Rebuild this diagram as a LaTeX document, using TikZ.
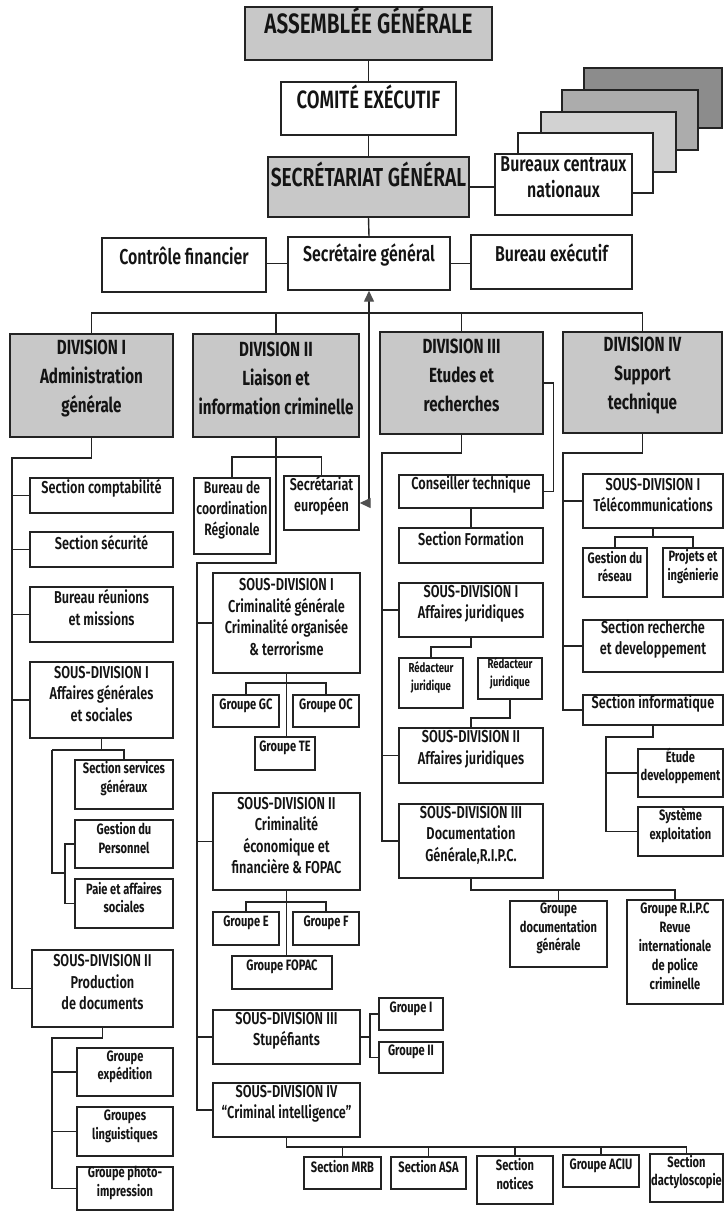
\documentclass[tikz,border=0pt]{standalone}
\usepackage{fontspec}
\setmainfont{Fira Sans}[FakeStretch=0.74, UprightFont=* SemiBold, BoldFont=* Bold]
\usetikzlibrary{fit,arrows.meta}
\definecolor{lc}{RGB}{35,35,35}
\definecolor{tc}{RGB}{20,20,20}
\definecolor{gfill}{RGB}{200,200,200}
\definecolor{stA}{RGB}{140,140,140}
\definecolor{stB}{RGB}{172,172,172}
\definecolor{stC}{RGB}{210,210,210}
\definecolor{arr}{RGB}{80,80,80}
\tikzset{
 bx/.style={draw=lc, line width=1.4pt, fill=white, inner sep=0pt, align=center, text=tc},
 gbx/.style={bx, fill=gfill},
 ln/.style={draw=lc, line width=1.4pt},
 fbig/.style={font=\fontsize{27}{30}\selectfont},
 fmid/.style={font=\fontsize{21.5}{26}\selectfont},
 fdiv/.style={font=\bfseries\fontsize{20.5}{29}\selectfont},
 fsec/.style={font=\fontsize{17.2}{21.5}\selectfont},
 fsm/.style={font=\bfseries\fontsize{15}{18.5}\selectfont},
 dblarrow/.style={ln, {Triangle[length=11pt,width=10pt,color=arr]}-{Triangle[length=11pt,width=10pt,color=arr]}},
}
\begin{document}
\begin{tikzpicture}[x=1pt,y=-1pt]
\fill[white] (0,0) rectangle (724,1211);
\useasboundingbox (0,0) rectangle (724,1211);

% ---------- top ----------
\node[gbx,fbig,font=\fontsize{28}{30}\selectfont,fit={(245,7)(492,60)}] (asm) {ASSEMBLÉE GÉNÉRALE};
\node[bx,fbig,font=\fontsize{25}{30}\selectfont,fit={(281,82)(456,135)}] (com) {COMITÉ EXÉCUTIF};
\node[gbx,fbig,font=\fontsize{26}{30}\selectfont,fit={(268,157)(469,217)}] (secg) {SECRÉTARIAT GÉNÉRAL};
\node[bx,fill=stA,fit={(584,68)(722,128)}] (stk4) {};
\node[bx,fill=stB,fit={(562,90)(698,150)}] (stk3) {};
\node[bx,fill=stC,fit={(541,112)(676,172)}] (stk2) {};
\node[bx,fit={(518,133)(653,193)}] (stk1) {};
\node[bx,fmid,fit={(495,154)(632,215)}] (bcn) {Bureaux centraux\\nationaux};
\node[bx,fmid,fit={(102,238)(266,292)}] (cf) {Contrôle financier};
\node[bx,fmid,fit={(288,237)(450,290)}] (sg) {Secrétaire général};
\node[bx,fmid,fit={(471,235)(632,289)}] (be) {Bureau exécutif};

\draw[ln] (asm.south) -- (com.north);
\draw[ln] (com.south) -- (secg.north);
\draw[ln] (secg.south) -- (sg.north);
\draw[ln] (secg.east) -- (secg.east -| bcn.west);
\draw[ln] (sg.west -| cf.east) -- (sg.west);
\draw[ln] (sg.east) -- (sg.east -| be.west);

% ---------- divisions ----------
\node[gbx,fdiv,fit={(10,334)(173,437)}] (d1) {DIVISION I\\Administration\\générale};
\node[gbx,fdiv,fit={(193,334)(359,437)}] (d2) {DIVISION II\\Liaison et\\information criminelle};
\node[gbx,fdiv,fit={(380,332)(543,434)}] (d3) {DIVISION III\\Etudes et\\recherches};
\node[gbx,fdiv,fit={(563,332)(722,433)}] (d4) {DIVISION IV\\Support\\technique};

\coordinate (bus) at (0,313);
\draw[ln] (d1.north) -- (d1.north |- bus) -- (d4.north |- bus) -- (d4.north);
\draw[ln] (d2.north) -- (d2.north |- bus);
\draw[ln] (d3.north) -- (d3.north |- bus);

% ---------- division I ----------
\node[bx,fsec,fit={(30,478)(173,513)}] (sc) {Section comptabilité};
\node[bx,fsec,fit={(30,532)(173,567)}] (ss) {Section sécurité};
\node[bx,fsec,fit={(30,587)(173,642)}] (br) {Bureau réunions\\et missions};
\node[bx,fsec,fit={(30,662)(173,738)}] (sda1) {SOUS-DIVISION I\\Affaires générales\\et sociales};
\node[bx,fsm,fit={(75,760)(173,809)}] (ssg) {Section services\\généraux};
\node[bx,fsm,fit={(75,820)(173,868)}] (gp) {Gestion du\\Personnel};
\node[bx,fsm,fit={(75,879)(173,928)}] (pas) {Paie et affaires\\sociales};
\node[bx,fsec,fit={(32,950)(173,1027)}] (sda2) {SOUS-DIVISION II\\Production\\de documents};
\node[bx,fsm,fit={(77,1048)(173,1096)}] (gex) {Groupe\\expédition};
\node[bx,fsm,fit={(77,1107)(173,1156)}] (gli) {Groupes\\linguistiques};
\node[bx,fsm,fit={(77,1167)(173,1210)}] (gpi) {Groupe photo-\\impression};

\coordinate (s1) at (12,458);
\draw[ln] (d1.south) |- (s1) -- (s1 |- sda2.west) -- (sda2.west);
\foreach \n in {sc,ss,br,sda1} \draw[ln] (s1 |- \n.west) -- (\n.west);
\coordinate (s1b) at (52,750);
\coordinate (s1c) at (65,873);
\draw[ln] (sda1.south) -- (sda1.south |- s1b);
\draw[ln] (s1b) -| (ssg.north);
\draw[ln] (s1b) -- (s1b |- s1c) -- (s1c);
\draw[ln] (gp.west) -- (gp.west -| s1c) -- (s1c |- pas.west) -- (pas.west);
\coordinate (s1d) at (52,1038);
\draw[ln] (sda2.south) |- (s1d) -- (s1d |- gpi.west) -- (gpi.west);
\foreach \n in {gex,gli} \draw[ln] (s1d |- \n.west) -- (\n.west);

% ---------- division II ----------
\node[bx,fsec,font=\fontsize{16.5}{21}\selectfont,fit={(194,478)(270,554)}] (bcr) {Bureau de\\coordination\\Régionale};
\node[bx,fsec,font=\fontsize{17}{21}\selectfont,fit={(284,476)(359,530)}] (se) {Secrétariat\\européen};
\node[bx,fsec,fit={(213,573)(360,673)}] (sdb1) {SOUS-DIVISION I\\Criminalité générale\\Criminalité organisée\\\& terrorisme};
\node[bx,fsm,fit={(213,695)(279,727)}] (ggc) {Groupe GC};
\node[bx,fsm,fit={(293,695)(359,727)}] (goc) {Groupe OC};
\node[bx,fsm,fit={(255,737)(315,770)}] (gte) {Groupe TE};
\node[bx,fsec,fit={(213,793)(360,890)}] (sdb2) {SOUS-DIVISION II\\Criminalité\\économique et\\financière \& FOPAC};
\node[bx,fsm,fit={(213,912)(279,945)}] (gE) {Groupe E};
\node[bx,fsm,fit={(293,912)(359,945)}] (gF) {Groupe F};
\node[bx,fsm,fit={(232,956)(332,989)}] (gfo) {Groupe FOPAC};
\node[bx,fsec,fit={(213,1010)(360,1064)}] (sdb3) {SOUS-DIVISION III\\Stupéfiants};
\node[bx,fsm,fit={(379,998)(443,1030)}] (gI) {Groupe I};
\node[bx,fsm,fit={(379,1042)(443,1073)}] (gII) {Groupe II};
\node[bx,fsec,fit={(213,1083)(360,1137)}] (sdb4) {SOUS-DIVISION IV\\“Criminal intelligence”};
\node[bx,fsm,fit={(304,1157)(381,1189)}] (mrb) {Section MRB};
\node[bx,fsm,fit={(391,1157)(466,1189)}] (asa) {Section ASA};
\node[bx,fsm,fit={(477,1156)(553,1204)}] (sno) {Section\\notices};
\node[bx,fsm,fit={(563,1155)(639,1187)}] (aciu) {Groupe ACIU};
\node[bx,fsm,fit={(650,1154)(723,1202)}] (sdac) {Section\\dactyloscopie};

\coordinate (h2) at (0,457);
\draw[ln] (bcr.north) -- (bcr.north |- h2) -- (se.north |- h2) -- (se.north);
\coordinate (s2) at (197,563);
\draw[ln] (d2.south) -- (d2.south |- s2) -- (s2) -- (s2 |- sdb4.west) -- (sdb4.west);
\foreach \n in {sdb1,sdb2,sdb3} \draw[ln] (s2 |- \n.west) -- (\n.west);
\coordinate (h21) at (0,683);
\draw[ln] (sdb1.south) -- (sdb1.south |- gte.north);
\draw[ln] (ggc.north) -- (ggc.north |- h21) -- (goc.north |- h21) -- (goc.north);
\coordinate (h22) at (0,902);
\draw[ln] (sdb2.south) -- (sdb2.south |- gfo.north);
\draw[ln] (gE.north) -- (gE.north |- h22) -- (gF.north |- h22) -- (gF.north);
\coordinate (v3) at (370,0);
\draw[ln] (sdb3.east) -- (sdb3.east -| v3);
\draw[ln] (gI.west) -- (gI.west -| v3) -- (gII.west -| v3) -- (gII.west);
\coordinate (h24) at (0,1147);
\draw[ln] (sdb4.south) -- (sdb4.south |- h24) -- (sdac.north |- h24) -- (sdac.north);
\foreach \n in {mrb,asa,sno,aciu} \draw[ln] (\n.north) -- (\n.north |- h24);

% double arrow secretaire general <-> secretariat europeen
\draw[dblarrow] (sg.south) -- (sg.south |- se.east) -- (se.east);

% ---------- division III ----------
\node[bx,fsec,fit={(399,475)(543,508)}] (ct) {Conseiller technique};
\node[bx,fsec,fit={(399,528)(543,563)}] (sf) {Section Formation};
\node[bx,fsec,fit={(399,583)(543,637)}] (sdc1) {SOUS-DIVISION I\\Affaires juridiques};
\node[bx,fsm,font=\bfseries\fontsize{13}{18}\selectfont,fit={(399,658)(463,708)}] (rj1) {Rédacteur\\juridique};
\node[bx,fsm,font=\bfseries\fontsize{13}{18}\selectfont,fit={(478,658)(542,699)}] (rj2) {Rédacteur\\juridique};
\node[bx,fsec,fit={(399,728)(543,783)}] (sdc2) {SOUS-DIVISION II\\Affaires juridiques};
\node[bx,fsec,fit={(399,804)(543,878)}] (sdc3) {SOUS-DIVISION III\\Documentation\\Générale,R.I.P.C.};
\node[bx,fsm,fit={(510,901)(607,967)}] (gdg) {Groupe\\documentation\\générale};
\node[bx,fsm,font=\bfseries\fontsize{15}{19}\selectfont,fit={(627,900)(723,1004)}] (grp) {Groupe R.I.P.C\\Revue\\internationale\\de police\\criminelle};

\coordinate (s3) at (382,453);
\draw[ln] (d3.south) |- (s3) -- (s3 |- sdc3.west) -- (sdc3.west);
\foreach \n in {sdc1,sdc2} \draw[ln] (s3 |- \n.west) -- (\n.west);
\draw[ln] (d3.east) -- ++(10,0) |- (ct.east);
\draw[ln] (ct.south) -- (sf.north);
\coordinate (h31) at (0,647);
\draw[ln] (sdc1.south) -- (sdc1.south |- h31) -| (rj1.north);
\coordinate (h32) at (0,718);
\draw[ln] (rj2.south) -- (rj2.south |- h32) -| (sdc2.north);
\coordinate (h33) at (0,890);
\draw[ln] (sdc3.south) -- (sdc3.south |- h33) -| (grp.north);
\draw[ln] (gdg.north) -- (gdg.north |- h33);

% ---------- division IV ----------
\node[bx,fsec,fit={(583,474)(723,528)}] (sdd1) {SOUS-DIVISION I\\Télécommunications};
\node[bx,fsm,fit={(583,548)(647,597)}] (gdr) {Gestion du\\réseau};
\node[bx,fsm,fit={(663,548)(723,597)}] (pei) {Projets et\\ingénierie};
\node[bx,fsec,fit={(583,620)(723,672)}] (srd) {Section recherche\\et developpement};
\node[bx,fsec,fit={(583,695)(723,725)}] (sin) {Section informatique};
\node[bx,fsm,fit={(638,749)(723,797)}] (etd) {Étude\\developpement};
\node[bx,fsm,fit={(638,807)(723,856)}] (sex) {Système\\exploitation};

\coordinate (s4) at (563,453);
\draw[ln] (d4.south) |- (s4) -- (s4 |- sin.west) -- (sin.west);
\foreach \n in {sdd1,srd} \draw[ln] (s4 |- \n.west) -- (\n.west);
\coordinate (h41) at (0,537);
\draw[ln] (sdd1.south) -- (sdd1.south |- h41);
\draw[ln] (gdr.north) -- (gdr.north |- h41) -- (pei.north |- h41) -- (pei.north);
\coordinate (s4b) at (606,737);
\draw[ln] (sin.south) |- (s4b) -- (s4b |- sex.west) -- (sex.west);
\draw[ln] (s4b |- etd.west) -- (etd.west);
\end{tikzpicture}
\end{document}
